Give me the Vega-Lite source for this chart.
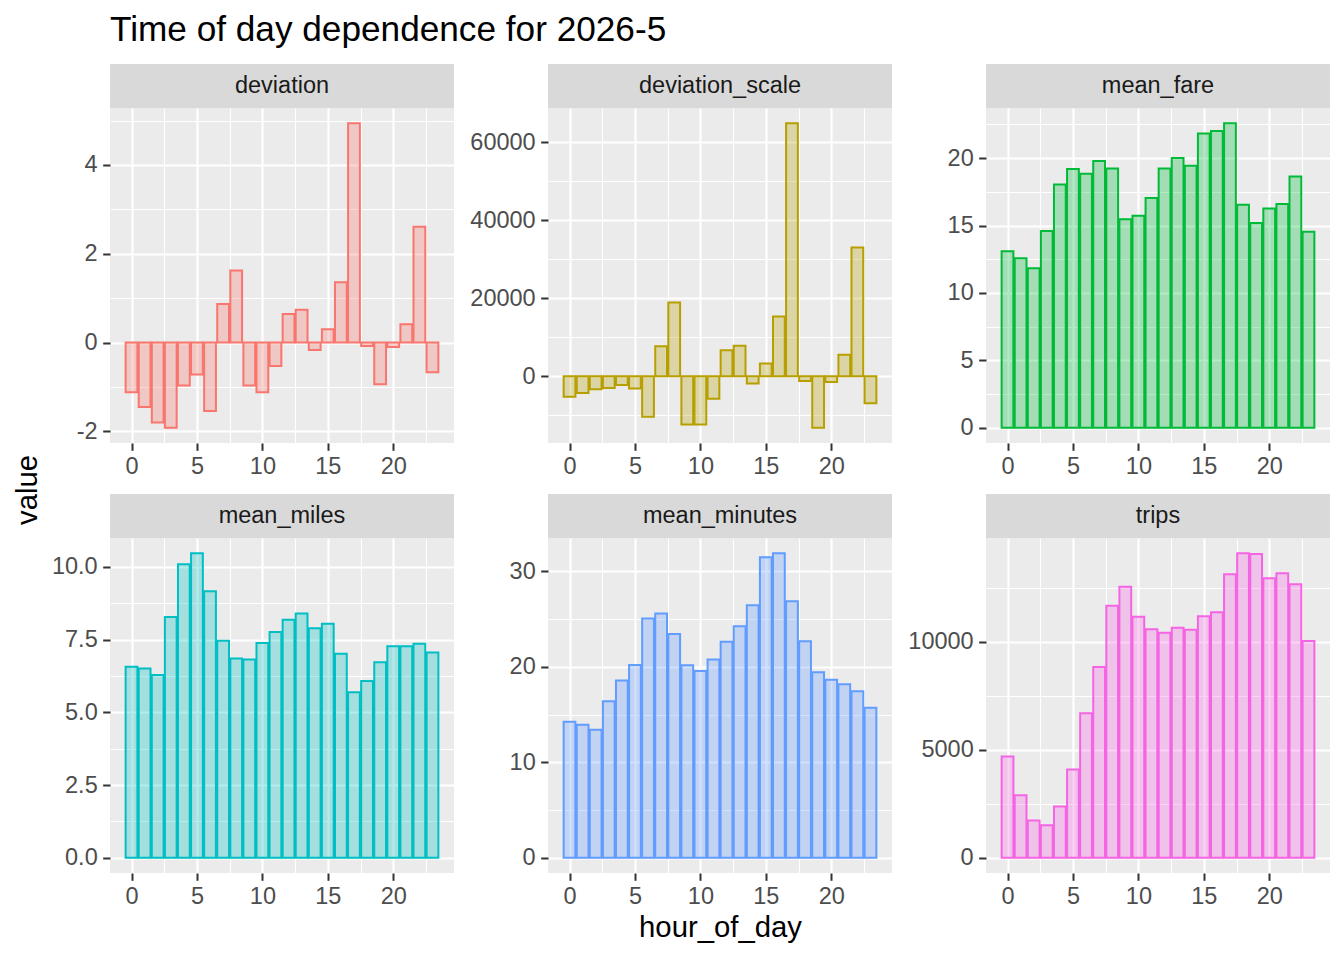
{
"$schema": "https://vega.github.io/schema/vega-lite/v6.json",
"padding": {"left": 0, "top": 12, "right": 5, "bottom": 5},
"background": "white",
"title": {"text": "Time of day dependence for 2026-5", "anchor": "start", "frame": "group", "dx": 110, "offset": 16, "fontSize": 35.2, "fontWeight": "normal", "color": "#000000", "font": "Liberation Sans"},
"datasets": {
"strips": [{"panel":"deviation"},{"panel":"deviation_scale"},{"panel":"mean_fare"},{"panel":"mean_miles"},{"panel":"mean_minutes"},{"panel":"trips"}],
"ylab": [{"label":"value"}],
"d": [
{"panel":"deviation","hour":0,"value":-1.12},{"panel":"deviation","hour":1,"value":-1.45},{"panel":"deviation","hour":2,"value":-1.80},{"panel":"deviation","hour":3,"value":-1.92},{"panel":"deviation","hour":4,"value":-0.97},{"panel":"deviation","hour":5,"value":-0.72},{"panel":"deviation","hour":6,"value":-1.54},{"panel":"deviation","hour":7,"value":0.87},{"panel":"deviation","hour":8,"value":1.62},{"panel":"deviation","hour":9,"value":-0.97},{"panel":"deviation","hour":10,"value":-1.12},{"panel":"deviation","hour":11,"value":-0.53},{"panel":"deviation","hour":12,"value":0.64},{"panel":"deviation","hour":13,"value":0.74},{"panel":"deviation","hour":14,"value":-0.17},{"panel":"deviation","hour":15,"value":0.30},{"panel":"deviation","hour":16,"value":1.36},{"panel":"deviation","hour":17,"value":4.94},{"panel":"deviation","hour":18,"value":-0.08},{"panel":"deviation","hour":19,"value":-0.94},{"panel":"deviation","hour":20,"value":-0.10},{"panel":"deviation","hour":21,"value":0.41},{"panel":"deviation","hour":22,"value":2.61},{"panel":"deviation","hour":23,"value":-0.67},
{"panel":"deviation_scale","hour":0,"value":-5280},{"panel":"deviation_scale","hour":1,"value":-4260},{"panel":"deviation_scale","hour":2,"value":-3320},{"panel":"deviation_scale","hour":3,"value":-2980},{"panel":"deviation_scale","hour":4,"value":-2220},{"panel":"deviation_scale","hour":5,"value":-3150},{"panel":"deviation_scale","hour":6,"value":-10400},{"panel":"deviation_scale","hour":7,"value":7670},{"panel":"deviation_scale","hour":8,"value":18900},{"panel":"deviation_scale","hour":9,"value":-12350},{"panel":"deviation_scale","hour":10,"value":-12350},{"panel":"deviation_scale","hour":11,"value":-5790},{"panel":"deviation_scale","hour":12,"value":6650},{"panel":"deviation_scale","hour":13,"value":7840},{"panel":"deviation_scale","hour":14,"value":-1870},{"panel":"deviation_scale","hour":15,"value":3240},{"panel":"deviation_scale","hour":16,"value":15340},{"panel":"deviation_scale","hour":17,"value":64840},{"panel":"deviation_scale","hour":18,"value":-1190},{"panel":"deviation_scale","hour":19,"value":-13200},{"panel":"deviation_scale","hour":20,"value":-1450},{"panel":"deviation_scale","hour":21,"value":5540},{"panel":"deviation_scale","hour":22,"value":32970},{"panel":"deviation_scale","hour":23,"value":-6900},
{"panel":"mean_fare","hour":0,"value":13.09},{"panel":"mean_fare","hour":1,"value":12.57},{"panel":"mean_fare","hour":2,"value":11.83},{"panel":"mean_fare","hour":3,"value":14.59},{"panel":"mean_fare","hour":4,"value":18.05},{"panel":"mean_fare","hour":5,"value":19.19},{"panel":"mean_fare","hour":6,"value":18.84},{"panel":"mean_fare","hour":7,"value":19.78},{"panel":"mean_fare","hour":8,"value":19.23},{"panel":"mean_fare","hour":9,"value":15.46},{"panel":"mean_fare","hour":10,"value":15.73},{"panel":"mean_fare","hour":11,"value":17.04},{"panel":"mean_fare","hour":12,"value":19.23},{"panel":"mean_fare","hour":13,"value":20.02},{"panel":"mean_fare","hour":14,"value":19.43},{"panel":"mean_fare","hour":15,"value":21.83},{"panel":"mean_fare","hour":16,"value":22.02},{"panel":"mean_fare","hour":17,"value":22.59},{"panel":"mean_fare","hour":18,"value":16.54},{"panel":"mean_fare","hour":19,"value":15.19},{"panel":"mean_fare","hour":20,"value":16.27},{"panel":"mean_fare","hour":21,"value":16.59},{"panel":"mean_fare","hour":22,"value":18.64},{"panel":"mean_fare","hour":23,"value":14.54},
{"panel":"mean_miles","hour":0,"value":6.57},{"panel":"mean_miles","hour":1,"value":6.51},{"panel":"mean_miles","hour":2,"value":6.28},{"panel":"mean_miles","hour":3,"value":8.28},{"panel":"mean_miles","hour":4,"value":10.09},{"panel":"mean_miles","hour":5,"value":10.47},{"panel":"mean_miles","hour":6,"value":9.16},{"panel":"mean_miles","hour":7,"value":7.46},{"panel":"mean_miles","hour":8,"value":6.85},{"panel":"mean_miles","hour":9,"value":6.82},{"panel":"mean_miles","hour":10,"value":7.38},{"panel":"mean_miles","hour":11,"value":7.76},{"panel":"mean_miles","hour":12,"value":8.18},{"panel":"mean_miles","hour":13,"value":8.40},{"panel":"mean_miles","hour":14,"value":7.89},{"panel":"mean_miles","hour":15,"value":8.05},{"panel":"mean_miles","hour":16,"value":7.01},{"panel":"mean_miles","hour":17,"value":5.69},{"panel":"mean_miles","hour":18,"value":6.08},{"panel":"mean_miles","hour":19,"value":6.72},{"panel":"mean_miles","hour":20,"value":7.27},{"panel":"mean_miles","hour":21,"value":7.27},{"panel":"mean_miles","hour":22,"value":7.36},{"panel":"mean_miles","hour":23,"value":7.06},
{"panel":"mean_minutes","hour":0,"value":14.25},{"panel":"mean_minutes","hour":1,"value":13.94},{"panel":"mean_minutes","hour":2,"value":13.41},{"panel":"mean_minutes","hour":3,"value":16.38},{"panel":"mean_minutes","hour":4,"value":18.55},{"panel":"mean_minutes","hour":5,"value":20.19},{"panel":"mean_minutes","hour":6,"value":25.04},{"panel":"mean_minutes","hour":7,"value":25.57},{"panel":"mean_minutes","hour":8,"value":23.44},{"panel":"mean_minutes","hour":9,"value":20.15},{"panel":"mean_minutes","hour":10,"value":19.56},{"panel":"mean_minutes","hour":11,"value":20.75},{"panel":"mean_minutes","hour":12,"value":22.63},{"panel":"mean_minutes","hour":13,"value":24.24},{"panel":"mean_minutes","hour":14,"value":26.44},{"panel":"mean_minutes","hour":15,"value":31.47},{"panel":"mean_minutes","hour":16,"value":31.89},{"panel":"mean_minutes","hour":17,"value":26.86},{"panel":"mean_minutes","hour":18,"value":22.67},{"panel":"mean_minutes","hour":19,"value":19.42},{"panel":"mean_minutes","hour":20,"value":18.65},{"panel":"mean_minutes","hour":21,"value":18.16},{"panel":"mean_minutes","hour":22,"value":17.43},{"panel":"mean_minutes","hour":23,"value":15.72},
{"panel":"trips","hour":0,"value":4684},{"panel":"trips","hour":1,"value":2897},{"panel":"trips","hour":2,"value":1726},{"panel":"trips","hour":3,"value":1510},{"panel":"trips","hour":4,"value":2373},{"panel":"trips","hour":5,"value":4083},{"panel":"trips","hour":6,"value":6687},{"panel":"trips","hour":7,"value":8829},{"panel":"trips","hour":8,"value":11664},{"panel":"trips","hour":9,"value":12542},{"panel":"trips","hour":10,"value":11156},{"panel":"trips","hour":11,"value":10585},{"panel":"trips","hour":12,"value":10416},{"panel":"trips","hour":13,"value":10647},{"panel":"trips","hour":14,"value":10555},{"panel":"trips","hour":15,"value":11186},{"panel":"trips","hour":16,"value":11371},{"panel":"trips","hour":17,"value":13128},{"panel":"trips","hour":18,"value":14099},{"panel":"trips","hour":19,"value":14068},{"panel":"trips","hour":20,"value":12943},{"panel":"trips","hour":21,"value":13174},{"panel":"trips","hour":22,"value":12666},{"panel":"trips","hour":23,"value":10031}
]
},
"spacing": -6,
"hconcat": [
{"width": 56, "height": 852, "data": {"name": "ylab"}, "mark": {"type": "text", "angle": 270, "fontSize": 29.3, "color": "#000000", "align": "center", "baseline": "middle"}, "encoding": {"text": {"field": "label", "type": "nominal"}}, "view": {"fill": null, "stroke": null}},
{"spacing": 0, "vconcat": [
{"spacing": 0, "hconcat": [
{"spacing": 0, "vconcat": [
{"width": 344, "height": 44, "data": {"name": "strips"}, "transform": [{"filter": "datum.panel === 'deviation'"}], "mark": {"type": "text", "fontSize": 23.5, "color": "#1A1A1A", "align": "center", "baseline": "middle"}, "encoding": {"text": {"field": "panel", "type": "nominal"}}, "view": {"fill": "#D9D9D9", "stroke": null}},
{"width": 344, "height": 335, "data": {"name": "d"}, "transform": [{"filter": "datum.panel === 'deviation'"}],
 "mark": {"type": "bar", "orient": "vertical", "width": 11.78, "fill": "#F8766D", "stroke": "#F8766D", "fillOpacity": 0.3, "strokeWidth": 2},
 "encoding": {
  "x": {"field": "hour", "type": "quantitative", "scale": {"domain": [-1.645, 24.645], "nice": false, "zero": false, "padding": 0}, "axis": {"title": null, "minExtent": 51, "values": [0, 2.5, 5, 7.5, 10, 12.5, 15, 17.5, 20, 22.5], "gridWidth": {"condition": {"test": "datum.value % 5 === 0", "value": 2.2}, "value": 1.1}, "tickOpacity": {"condition": {"test": "datum.value % 5 === 0", "value": 1}, "value": 0}, "labelExpr": "datum.value % 5 === 0 ? datum.label : ''"}},
  "y": {"field": "value", "type": "quantitative", "scale": {"domain": [-2.263, 5.283], "nice": false, "zero": true}, "axis": {"title": null, "minExtent": 60, "values": [-2, -1, 0, 1, 2, 3, 4, 5], "gridWidth": {"condition": {"test": "datum.value % 2 === 0", "value": 2.2}, "value": 1.1}, "tickOpacity": {"condition": {"test": "datum.value % 2 === 0", "value": 1}, "value": 0}, "labelExpr": "datum.value % 2 === 0 ? (datum.value < 0 ? '-' : '') + format(abs(datum.value), 'd') : ''"}}
 },
 "view": {"fill": "#EBEBEB", "stroke": null}}
]},
{"spacing": 0, "vconcat": [
{"width": 344, "height": 44, "data": {"name": "strips"}, "transform": [{"filter": "datum.panel === 'deviation_scale'"}], "mark": {"type": "text", "fontSize": 23.5, "color": "#1A1A1A", "align": "center", "baseline": "middle"}, "encoding": {"text": {"field": "panel", "type": "nominal"}}, "view": {"fill": "#D9D9D9", "stroke": null}},
{"width": 344, "height": 335, "data": {"name": "d"}, "transform": [{"filter": "datum.panel === 'deviation_scale'"}],
 "mark": {"type": "bar", "orient": "vertical", "width": 11.78, "fill": "#B79F00", "stroke": "#B79F00", "fillOpacity": 0.3, "strokeWidth": 2},
 "encoding": {
  "x": {"field": "hour", "type": "quantitative", "scale": {"domain": [-1.645, 24.645], "nice": false, "zero": false, "padding": 0}, "axis": {"title": null, "minExtent": 51, "values": [0, 2.5, 5, 7.5, 10, 12.5, 15, 17.5, 20, 22.5], "gridWidth": {"condition": {"test": "datum.value % 5 === 0", "value": 2.2}, "value": 1.1}, "tickOpacity": {"condition": {"test": "datum.value % 5 === 0", "value": 1}, "value": 0}, "labelExpr": "datum.value % 5 === 0 ? datum.label : ''"}},
  "y": {"field": "value", "type": "quantitative", "scale": {"domain": [-17102, 68742], "nice": false, "zero": true}, "axis": {"title": null, "minExtent": 93.5, "values": [-10000, 0, 10000, 20000, 30000, 40000, 50000, 60000], "gridWidth": {"condition": {"test": "datum.value % 20000 === 0", "value": 2.2}, "value": 1.1}, "tickOpacity": {"condition": {"test": "datum.value % 20000 === 0", "value": 1}, "value": 0}, "labelExpr": "datum.value % 20000 === 0 ? format(datum.value, 'd') : ''"}}
 },
 "view": {"fill": "#EBEBEB", "stroke": null}}
]},
{"spacing": 0, "vconcat": [
{"width": 344, "height": 44, "data": {"name": "strips"}, "transform": [{"filter": "datum.panel === 'mean_fare'"}], "mark": {"type": "text", "fontSize": 23.5, "color": "#1A1A1A", "align": "center", "baseline": "middle"}, "encoding": {"text": {"field": "panel", "type": "nominal"}}, "view": {"fill": "#D9D9D9", "stroke": null}},
{"width": 344, "height": 335, "data": {"name": "d"}, "transform": [{"filter": "datum.panel === 'mean_fare'"}],
 "mark": {"type": "bar", "orient": "vertical", "width": 11.78, "fill": "#00BA38", "stroke": "#00BA38", "fillOpacity": 0.3, "strokeWidth": 2},
 "encoding": {
  "x": {"field": "hour", "type": "quantitative", "scale": {"domain": [-1.645, 24.645], "nice": false, "zero": false, "padding": 0}, "axis": {"title": null, "minExtent": 51, "values": [0, 2.5, 5, 7.5, 10, 12.5, 15, 17.5, 20, 22.5], "gridWidth": {"condition": {"test": "datum.value % 5 === 0", "value": 2.2}, "value": 1.1}, "tickOpacity": {"condition": {"test": "datum.value % 5 === 0", "value": 1}, "value": 0}, "labelExpr": "datum.value % 5 === 0 ? datum.label : ''"}},
  "y": {"field": "value", "type": "quantitative", "scale": {"domain": [-1.13, 23.72], "nice": false, "zero": true}, "axis": {"title": null, "minExtent": 93.5, "values": [0, 2.5, 5, 7.5, 10, 12.5, 15, 17.5, 20, 22.5], "gridWidth": {"condition": {"test": "datum.value % 5 === 0", "value": 2.2}, "value": 1.1}, "tickOpacity": {"condition": {"test": "datum.value % 5 === 0", "value": 1}, "value": 0}, "labelExpr": "datum.value % 5 === 0 ? format(datum.value, 'd') : ''"}}
 },
 "view": {"fill": "#EBEBEB", "stroke": null}}
]}
]},
{"spacing": 0, "hconcat": [
{"spacing": 0, "vconcat": [
{"width": 344, "height": 44, "data": {"name": "strips"}, "transform": [{"filter": "datum.panel === 'mean_miles'"}], "mark": {"type": "text", "fontSize": 23.5, "color": "#1A1A1A", "align": "center", "baseline": "middle"}, "encoding": {"text": {"field": "panel", "type": "nominal"}}, "view": {"fill": "#D9D9D9", "stroke": null}},
{"width": 344, "height": 335, "data": {"name": "d"}, "transform": [{"filter": "datum.panel === 'mean_miles'"}],
 "mark": {"type": "bar", "orient": "vertical", "width": 11.78, "fill": "#00BFC4", "stroke": "#00BFC4", "fillOpacity": 0.3, "strokeWidth": 2},
 "encoding": {
  "x": {"field": "hour", "type": "quantitative", "scale": {"domain": [-1.645, 24.645], "nice": false, "zero": false, "padding": 0}, "axis": {"title": null, "values": [0, 2.5, 5, 7.5, 10, 12.5, 15, 17.5, 20, 22.5], "gridWidth": {"condition": {"test": "datum.value % 5 === 0", "value": 2.2}, "value": 1.1}, "tickOpacity": {"condition": {"test": "datum.value % 5 === 0", "value": 1}, "value": 0}, "labelExpr": "datum.value % 5 === 0 ? datum.label : ''"}},
  "y": {"field": "value", "type": "quantitative", "scale": {"domain": [-0.524, 10.994], "nice": false, "zero": true}, "axis": {"title": null, "minExtent": 60, "values": [0, 1.25, 2.5, 3.75, 5, 6.25, 7.5, 8.75, 10], "gridWidth": {"condition": {"test": "datum.value % 2.5 === 0", "value": 2.2}, "value": 1.1}, "tickOpacity": {"condition": {"test": "datum.value % 2.5 === 0", "value": 1}, "value": 0}, "labelExpr": "datum.value % 2.5 === 0 ? format(datum.value, '.1f') : ''"}}
 },
 "view": {"fill": "#EBEBEB", "stroke": null}}
]},
{"spacing": 0, "vconcat": [
{"width": 344, "height": 44, "data": {"name": "strips"}, "transform": [{"filter": "datum.panel === 'mean_minutes'"}], "mark": {"type": "text", "fontSize": 23.5, "color": "#1A1A1A", "align": "center", "baseline": "middle"}, "encoding": {"text": {"field": "panel", "type": "nominal"}}, "view": {"fill": "#D9D9D9", "stroke": null}},
{"width": 344, "height": 335, "data": {"name": "d"}, "transform": [{"filter": "datum.panel === 'mean_minutes'"}],
 "mark": {"type": "bar", "orient": "vertical", "width": 11.78, "fill": "#619CFF", "stroke": "#619CFF", "fillOpacity": 0.3, "strokeWidth": 2},
 "encoding": {
  "x": {"field": "hour", "type": "quantitative", "scale": {"domain": [-1.645, 24.645], "nice": false, "zero": false, "padding": 0}, "axis": {"title": "hour_of_day", "values": [0, 2.5, 5, 7.5, 10, 12.5, 15, 17.5, 20, 22.5], "gridWidth": {"condition": {"test": "datum.value % 5 === 0", "value": 2.2}, "value": 1.1}, "tickOpacity": {"condition": {"test": "datum.value % 5 === 0", "value": 1}, "value": 0}, "labelExpr": "datum.value % 5 === 0 ? datum.label : ''"}},
  "y": {"field": "value", "type": "quantitative", "scale": {"domain": [-1.594, 33.48], "nice": false, "zero": true}, "axis": {"title": null, "minExtent": 93.5, "values": [0, 5, 10, 15, 20, 25, 30], "gridWidth": {"condition": {"test": "datum.value % 10 === 0", "value": 2.2}, "value": 1.1}, "tickOpacity": {"condition": {"test": "datum.value % 10 === 0", "value": 1}, "value": 0}, "labelExpr": "datum.value % 10 === 0 ? format(datum.value, 'd') : ''"}}
 },
 "view": {"fill": "#EBEBEB", "stroke": null}}
]},
{"spacing": 0, "vconcat": [
{"width": 344, "height": 44, "data": {"name": "strips"}, "transform": [{"filter": "datum.panel === 'trips'"}], "mark": {"type": "text", "fontSize": 23.5, "color": "#1A1A1A", "align": "center", "baseline": "middle"}, "encoding": {"text": {"field": "panel", "type": "nominal"}}, "view": {"fill": "#D9D9D9", "stroke": null}},
{"width": 344, "height": 335, "data": {"name": "d"}, "transform": [{"filter": "datum.panel === 'trips'"}],
 "mark": {"type": "bar", "orient": "vertical", "width": 11.78, "fill": "#F564E3", "stroke": "#F564E3", "fillOpacity": 0.3, "strokeWidth": 2},
 "encoding": {
  "x": {"field": "hour", "type": "quantitative", "scale": {"domain": [-1.645, 24.645], "nice": false, "zero": false, "padding": 0}, "axis": {"title": null, "values": [0, 2.5, 5, 7.5, 10, 12.5, 15, 17.5, 20, 22.5], "gridWidth": {"condition": {"test": "datum.value % 5 === 0", "value": 2.2}, "value": 1.1}, "tickOpacity": {"condition": {"test": "datum.value % 5 === 0", "value": 1}, "value": 0}, "labelExpr": "datum.value % 5 === 0 ? datum.label : ''"}},
  "y": {"field": "value", "type": "quantitative", "scale": {"domain": [-705, 14804], "nice": false, "zero": true}, "axis": {"title": null, "minExtent": 93.5, "values": [0, 2500, 5000, 7500, 10000, 12500], "gridWidth": {"condition": {"test": "datum.value % 5000 === 0", "value": 2.2}, "value": 1.1}, "tickOpacity": {"condition": {"test": "datum.value % 5000 === 0", "value": 1}, "value": 0}, "labelExpr": "datum.value % 5000 === 0 ? format(datum.value, 'd') : ''"}}
 },
 "view": {"fill": "#EBEBEB", "stroke": null}}
]}
]}
]}
],
"config": {
 "font": "Liberation Sans",
 "view": {"stroke": null},
 "axis": {"domain": false, "grid": true, "gridColor": "#FFFFFF", "labelFont": "Liberation Sans", "labelFontSize": 23.5, "labelColor": "#4D4D4D", "tickColor": "#333333", "tickSize": 7.3, "tickWidth": 2, "labelOverlap": false, "labelFlush": false, "titleFont": "Liberation Sans", "titleFontSize": 29.3, "titleColor": "#000000", "titleFontWeight": "normal"},
 "axisX": {"labelPadding": 4, "titlePadding": 6},
 "axisY": {"labelPadding": 5.5}
}
}
